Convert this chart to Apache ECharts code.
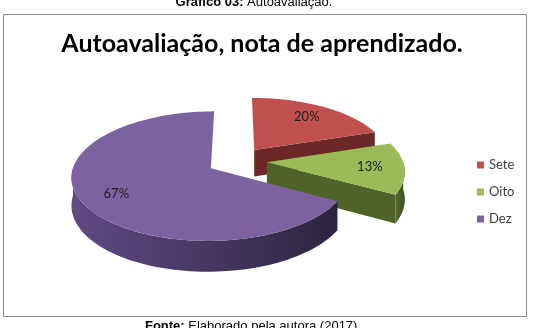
<!DOCTYPE html>
<html>
<head>
<meta charset="utf-8">
<script src="https://cdn.jsdelivr.net/npm/echarts@6/dist/echarts.min.js"></script>
<style>
  html, body { margin: 0; padding: 0; background: #fff; }
  #chart { width: 540px; height: 328px; }
</style>
</head>
<body>
<div id="chart"></div>
<script>
var categories = ['Sete', 'Oito', 'Dez'];
var values = [20, 13, 67];

var topColors = ['#C0504D', '#9BBB59', '#7D62A0'];
var sideColors = ['#6B2826', '#4F6228', '#3E3157'];
var wallColors = [['#7a2e2c', '#5a1f1e'], ['#566b2c', '#3d4c1f'], ['#604B83', '#2D2440']];

var total = values.reduce(function (a, b) { return a + b; }, 0);
var starts = [];
var acc = 0;
values.forEach(function (v) { starts.push(acc / total * 360); acc += v; });

// fake 3d pie: ellipse, small perspective, all slices pulled out a bit
var CX = 237, CY = 161, RX = 136, RY = 63, H = 27, PERSP = 0.127, EXPLODE = 0.22;

function proj(u, v, bottom) {
  var s = 1 + PERSP * v;
  return [CX + RX * u * s, CY + (RY * v + (bottom ? H : 0)) * s];
}
function dir(deg) {
  var r = deg * Math.PI / 180;
  return [Math.sin(r), -Math.cos(r)];
}

function renderSlice(i) {
  return function (params, api) {
    var a1 = starts[i], a2 = starts[i] + values[i] / total * 360;
    var mid = dir((a1 + a2) / 2);
    var ou = EXPLODE * mid[0], ov = EXPLODE * mid[1];
    function pt(deg, r, bottom) {
      var d = dir(deg);
      return proj(ou + r * d[0], ov + r * d[1], bottom);
    }
    function arc(from, to, bottom) {
      var pts = [];
      var n = Math.max(2, Math.ceil((to - from) / 2));
      for (var k = 0; k <= n; k++) pts.push(pt(from + (to - from) * k / n, 1, bottom));
      return pts;
    }
    var children = [];
    // cut faces
    [a1, a2].forEach(function (a, j) {
      var sn = Math.sin(a * Math.PI / 180);
      if ((j === 0 && sn < -0.01) || (j === 1 && sn > 0.01)) {
        children.push({
          type: 'polygon',
          shape: { points: [pt(a, 0, false), pt(a, 1, false), pt(a, 1, true), pt(a, 0, true)] },
          style: { fill: sideColors[i] }
        });
      }
    });
    // outer wall, front half only
    var w1 = Math.max(a1, 90), w2 = Math.min(a2, 270);
    if (w2 > w1) {
      var pts = arc(w1, w2, false).concat(arc(w1, w2, true).reverse());
      children.push({
        type: 'polygon',
        shape: { points: pts },
        style: {
          fill: new echarts.graphic.LinearGradient(0, 0, 1, 0, [
            { offset: 0, color: wallColors[i][0] },
            { offset: 1, color: wallColors[i][1] }
          ])
        }
      });
    }
    // top
    children.push({
      type: 'polygon',
      shape: { points: [pt(a1, 0, false)].concat(arc(a1, a2, false)) },
      style: { fill: topColors[i] }
    });
    var lp = proj(ou + 0.75 * mid[0], ov + 0.75 * mid[1], false);
    children.push({
      type: 'text',
      x: lp[0], y: lp[1],
      style: {
        text: Math.round(values[i] / total * 100) + '%',
        align: 'center', verticalAlign: 'middle',
        fill: '#222', font: '13px Lato'
      }
    });
    return { type: 'group', children: children };
  };
}

var chart = echarts.init(document.getElementById('chart'));
var series = categories.map(function (name, i) {
  return {
    name: name,
    type: 'custom',
    coordinateSystem: 'none',
    silent: true,
    itemStyle: { color: topColors[i] },
    renderItem: renderSlice(i),
    data: [[values[i]]]
  };
});

var option = {
  animation: false,
  title: {
    text: 'Autoavaliação, nota de aprendizado.',
    left: 257,
    top: 26,
    textAlign: 'center',
    textStyle: { fontFamily: 'Lato', fontWeight: 'bold', fontSize: 25, color: '#000' }
  },
  legend: {
    data: categories,
    orient: 'vertical',
    left: 472,
    top: 153,
    icon: 'rect',
    itemWidth: 7,
    itemHeight: 7,
    itemGap: 13,
    textStyle: { fontFamily: 'Lato', fontSize: 13, color: '#404040', lineHeight: 14 }
  },
  graphic: [
    {
      type: 'rect',
      shape: { x: 3.5, y: 14.5, width: 523, height: 302 },
      style: { fill: 'none', stroke: '#8c8c8c', lineWidth: 1 },
      z: -1
    },
    {
      type: 'text',
      x: 254, y: -4,
      style: {
        text: '{b|Gráfico 03:} Autoavaliação.',
        align: 'center',
        font: '13px "Liberation Sans"',
        fill: '#000',
        rich: { b: { fontWeight: 'bold', fontFamily: 'Liberation Sans', fontSize: 13 } }
      }
    },
    {
      type: 'text',
      x: 253, y: 320,
      style: {
        text: '{b|Fonte:} Elaborado pela autora (2017).',
        align: 'center',
        font: '13px "Liberation Sans"',
        fill: '#000',
        rich: { b: { fontWeight: 'bold', fontFamily: 'Liberation Sans', fontSize: 13 } }
      }
    }
  ],
  series: series
};
chart.setOption(option);
</script>
</body>
</html>
